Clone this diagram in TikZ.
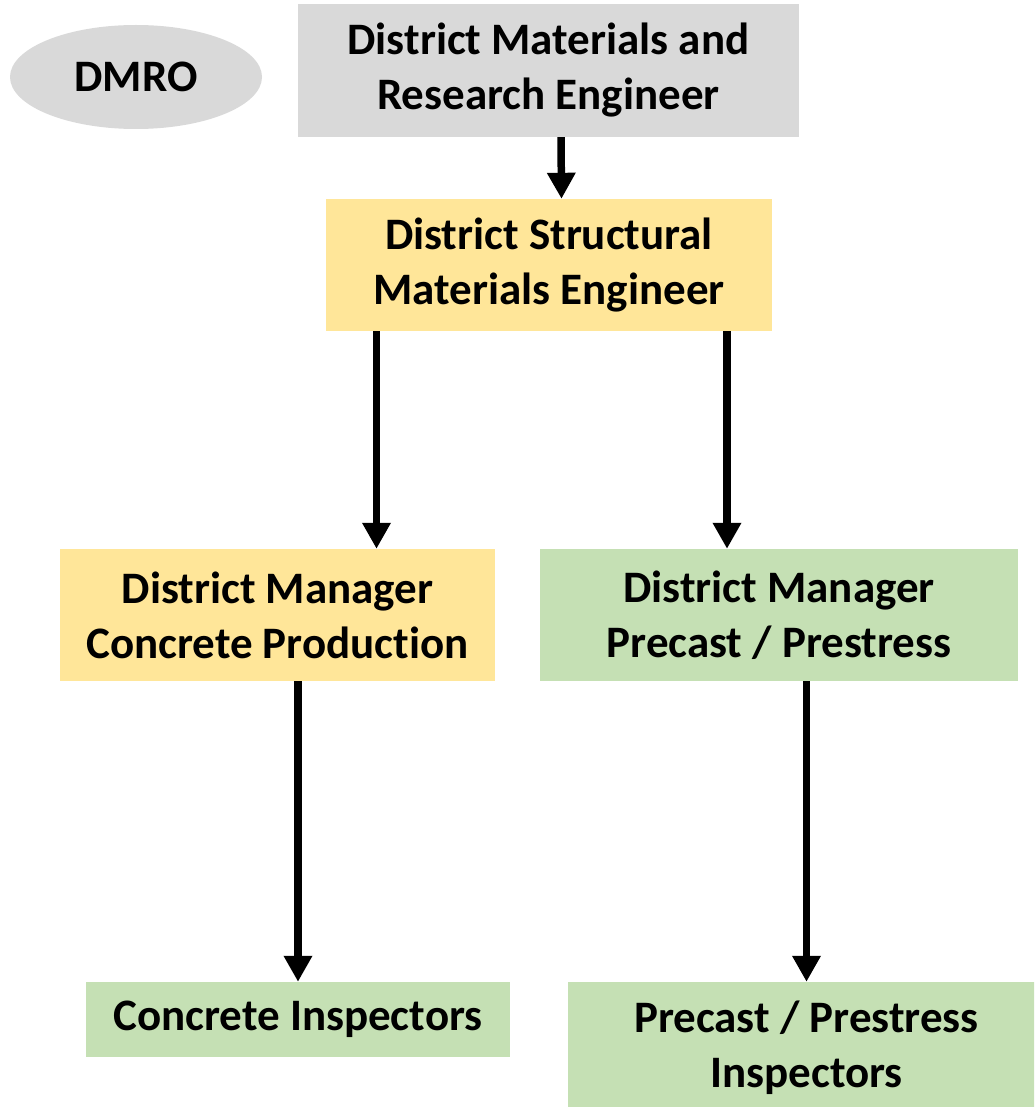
\documentclass[tikz,border=0pt]{standalone}
\usepackage{fontspec}
\setmainfont{Carlito}[Ligatures=NoCommon]
\usepackage{tikz}
\usetikzlibrary{arrows.meta,shapes.geometric}

\definecolor{greyfill}{HTML}{D9D9D9}
\definecolor{yellowfill}{HTML}{FFE699}
\definecolor{greenfill}{HTML}{C5E0B4}

\begin{document}
\begin{tikzpicture}
	[x=1pt,y=-1pt,every node/.style={rectangle,inner sep=0pt,align=center,font=\fontsize{45}{55}\selectfont\bfseries},
	greybox/.style={fill=greyfill}, yellowbox/.style={fill=yellowfill}, greenbox/.style={fill=greenfill},
	edge/.style={->,> = {Triangle[width=27pt,length=26pt]},line width=7.5pt}]
	\clip (0,0) rectangle (1034,1107);
	\node[ellipse,greybox,minimum width=252pt,minimum height=104pt] (dmro) at (136,77) {DMRO};
	\node[greybox,minimum width=501pt,minimum height=133pt] (dmre) at (548.5,70.5) {District Materials and\\Research Engineer};
	\node[yellowbox,minimum width=446pt,minimum height=132pt] (dsme) at (549,265) {District Structural\\Materials Engineer};
	\node[yellowbox,minimum width=435pt,minimum height=132pt] (dmcp) at (277.5,615) {District Manager\\Concrete Production};
	\node[greenbox,minimum width=478pt,minimum height=132pt] (dmpp) at (779,615) {District Manager\\Precast / Prestress};
	\node[greenbox,minimum width=424pt,minimum height=75pt] (ci) at (298,1019.5) {Concrete Inspectors};
	\node[greenbox,minimum width=477pt,minimum height=132pt] (ppi) at (806.5,1048) {Precast / Prestress\\Inspectors};

	\coordinate (s1) at ([xshift=-172.5pt]dsme.south);
	\coordinate (s2) at ([xshift=178pt]dsme.south);

	\draw[edge] ([xshift=12.5pt]dmre.south) to ([xshift=12.5pt]dsme.north);
	\draw[edge] (s1) to (s1 |- dmcp.north);
	\draw[edge] (s2) to (s2 |- dmpp.north);
	\draw[edge] (dmcp.south -| ci.north) to (ci.north);
	\draw[edge] (dmpp.south -| ppi.north) to (ppi.north);
\end{tikzpicture}
\end{document}
